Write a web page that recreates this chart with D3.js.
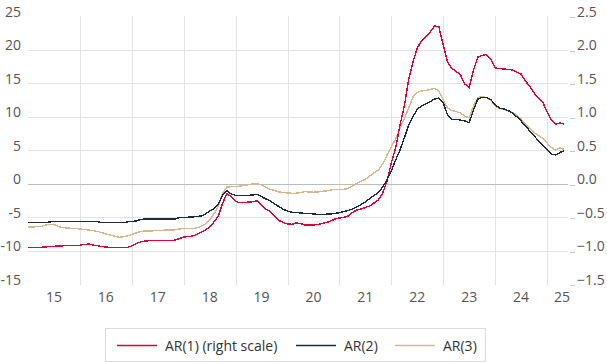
<!DOCTYPE html>
<html><head><meta charset="utf-8">
<script src="https://cdn.jsdelivr.net/npm/d3@7"></script>
<style>body{margin:0;background:#fff}svg{display:block;font-family:"Open Sans",sans-serif}</style>
</head><body><svg id="c" width="607" height="362"></svg>
<script>
// monthly observations, Jan 2015 .. May 2025
const startYear = 2015, startMonth = 0;
const ar1 = [-0.952,-0.952,-0.949,-0.949,-0.945,-0.937,-0.934,-0.93,-0.927,-0.922,-0.919,-0.919,
-0.919,-0.907,-0.9,-0.915,-0.925,-0.937,-0.945,-0.952,-0.955,-0.952,-0.949,-0.949,
-0.93,-0.893,-0.87,-0.855,-0.851,-0.851,-0.851,-0.851,-0.851,-0.851,-0.84,-0.818,
-0.796,-0.788,-0.781,-0.758,-0.728,-0.691,-0.646,-0.572,-0.482,-0.288,-0.146,-0.199,
-0.266,-0.284,-0.281,-0.273,-0.269,-0.254,-0.318,-0.378,-0.418,-0.482,-0.549,-0.579,
-0.601,-0.606,-0.587,-0.594,-0.616,-0.616,-0.616,-0.609,-0.594,-0.579,-0.557,-0.527,
-0.512,-0.504,-0.482,-0.43,-0.393,-0.378,-0.355,-0.333,-0.288,-0.243,-0.139,0.04,
0.309,0.533,0.876,1.16,1.548,1.816,2.025,2.137,2.19,2.264,2.354,2.339,
2.07,1.816,1.719,1.675,1.622,1.488,1.436,1.697,1.891,1.913,1.928,1.861,
1.727,1.719,1.712,1.704,1.697,1.667,1.637,1.533,1.451,1.354,1.279,1.219,
1.07,0.951,0.891,0.906,0.891];
const ar2 = [-5.82,-5.8,-5.8,-5.8,-5.8,-5.7,-5.67,-5.67,-5.67,-5.67,-5.67,-5.67,
-5.67,-5.67,-5.67,-5.67,-5.67,-5.8,-5.82,-5.82,-5.82,-5.82,-5.82,-5.7,
-5.64,-5.57,-5.34,-5.27,-5.27,-5.27,-5.27,-5.27,-5.27,-5.27,-5.27,-5.04,
-5.0,-5.0,-4.97,-4.9,-4.82,-4.52,-4.07,-3.78,-3.03,-1.69,-1.04,-1.54,
-1.73,-1.73,-1.73,-1.73,-1.69,-1.58,-1.94,-2.28,-2.54,-3.03,-3.4,-3.82,
-4.07,-4.27,-4.3,-4.37,-4.42,-4.45,-4.52,-4.57,-4.57,-4.55,-4.52,-4.42,
-4.33,-4.15,-4.0,-3.78,-3.48,-3.1,-2.73,-2.21,-1.76,-1.31,-0.49,0.55,
1.9,3.54,5.03,6.82,8.76,10.0,11.15,11.6,11.9,12.24,12.64,12.79,
12.04,10.25,9.58,9.61,9.5,9.36,9.13,11.0,12.64,12.87,12.87,12.57,
11.75,11.3,11.15,10.93,10.55,10.0,9.36,8.61,7.87,7.12,6.45,5.78,
5.03,4.43,4.28,4.66,4.96];
const ar3 = [-6.46,-6.46,-6.42,-6.39,-6.16,-6.09,-6.09,-6.39,-6.54,-6.61,-6.66,-6.69,
-6.76,-6.84,-6.91,-6.99,-7.13,-7.28,-7.51,-7.66,-7.81,-8.0,-7.93,-7.81,
-7.58,-7.36,-7.13,-7.06,-7.06,-7.03,-6.99,-6.96,-6.91,-6.91,-6.88,-6.76,
-6.69,-6.69,-6.69,-6.61,-6.36,-6.01,-5.42,-4.52,-3.33,-1.39,-0.49,-0.45,
-0.45,-0.34,-0.27,-0.15,-0.01,0.03,-0.19,-0.49,-0.84,-1.01,-1.24,-1.31,
-1.39,-1.43,-1.43,-1.31,-1.19,-1.24,-1.28,-1.24,-1.13,-1.09,-0.94,-0.84,
-0.84,-0.84,-0.72,-0.34,0.03,0.4,0.63,1.15,1.6,2.04,2.94,4.28,
5.48,6.67,8.27,9.66,11.3,12.94,13.61,13.84,13.91,14.06,14.21,13.84,
12.49,11.3,10.9,10.78,10.55,10.1,9.81,11.6,12.87,12.97,12.87,12.42,
11.6,11.22,11.07,10.93,10.63,10.25,9.66,8.91,8.31,7.64,7.19,6.78,
6.07,5.4,5.03,5.33,5.1];
const leftTicks = [-15,-10,-5,0,5,10,15,20,25];
const rightTicks = [-1.5,-1.0,-0.5,0.0,0.5,1.0,1.5,2.0,2.5];
const yearTicks = [2015,2016,2017,2018,2019,2020,2021,2022,2023,2024,2025];
const legendLabels = ["AR(1) (right scale)","AR(2)","AR(3)"];
const colors = ["#e2003a","#1e2b3c","#d6b88e"];

const svg = d3.select("#c");
const x = d3.scaleLinear().domain([2015, 2025.5]).range([28, 573]);
const yL = d3.scaleLinear().domain([-15, 25]).range([284.2, 16.2]);
const yR = d3.scaleLinear().domain([-1.5, 2.5]).range([284.2, 16.2]);
const t = i => startYear + (startMonth + i) / 12;

// vertical grid
svg.append("g").selectAll("line").data(yearTicks.slice(1)).join("line")
  .attr("x1", d => Math.round(x(d)) + 0.5).attr("x2", d => Math.round(x(d)) + 0.5)
  .attr("y1", 16).attr("y2", 285).attr("stroke", "#e3e3e3").attr("stroke-width", 1);
// horizontal grid
svg.append("g").selectAll("line").data(leftTicks.filter(d => d > -15 && d < 25)).join("line")
  .attr("x1", 28).attr("x2", 568)
  .attr("y1", d => Math.round(yL(d)) + 0.5).attr("y2", d => Math.round(yL(d)) + 0.5)
  .attr("stroke", d => d === 0 ? "#bcbcbc" : "#e3e3e3").attr("stroke-width", 1);
// right ticks
svg.append("g").selectAll("line").data(rightTicks).join("line")
  .attr("x1", 570).attr("x2", 575)
  .attr("y1", d => Math.round(yR(d)) + 1.5).attr("y2", d => Math.round(yR(d)) + 1.5)
  .attr("stroke", "#c8c8c8");

// left labels
svg.append("g").selectAll("text").data(leftTicks).join("text")
  .attr("x", 21).attr("y", d => yL(d) + 0.5).attr("text-anchor", "end")
  .attr("font-size", 14).attr("fill", "#555").text(d => d);
// right labels
svg.append("g").selectAll("text").data(rightTicks).join("text")
  .attr("x", 577).attr("y", d => yR(d) + 0.5).attr("text-anchor", "start")
  .attr("font-size", 14).attr("fill", "#555").text(d => d3.format(".1f")(d));
// x labels
svg.append("g").selectAll("text").data(yearTicks).join("text")
  .attr("x", d => (x(d) + x(Math.min(d + 1, 2025.5))) / 2 + (d === 2025 ? 2 : 0))
  .attr("y", 302).attr("text-anchor", "middle")
  .attr("font-size", 14).attr("fill", "#555").text(d => String(d).slice(2));

// lines
const series = [
  {v: ar1, y: yR, c: colors[0]},
  {v: ar2, y: yL, c: colors[1]},
  {v: ar3, y: yL, c: colors[2]}
];
const drawOrder = [2, 0, 1];
drawOrder.forEach(k => {
  const s = series[k];
  const line = d3.line().x((d, i) => x(t(i))).y(d => s.y(d));
  svg.append("path").attr("d", line(s.v)).attr("fill", "none")
    .attr("stroke", s.c).attr("stroke-width", 1.4).attr("shape-rendering", "crispEdges");
});

// legend
svg.append("rect").attr("x", 105.5).attr("y", 328.5).attr("width", 380).attr("height", 33)
  .attr("fill", "#fff").attr("stroke", "#dcdcdc");
const legX = [117, 296, 395];
legendLabels.forEach((lab, k) => {
  svg.append("line").attr("x1", legX[k]).attr("x2", legX[k] + 40)
    .attr("y1", 345.5).attr("y2", 345.5).attr("stroke", colors[k]).attr("stroke-width", 1.4);
  svg.append("text").attr("x", legX[k] + 48).attr("y", 350.5).attr("font-size", 14)
    .attr("fill", "#333").text(lab);
});
</script></body></html>
